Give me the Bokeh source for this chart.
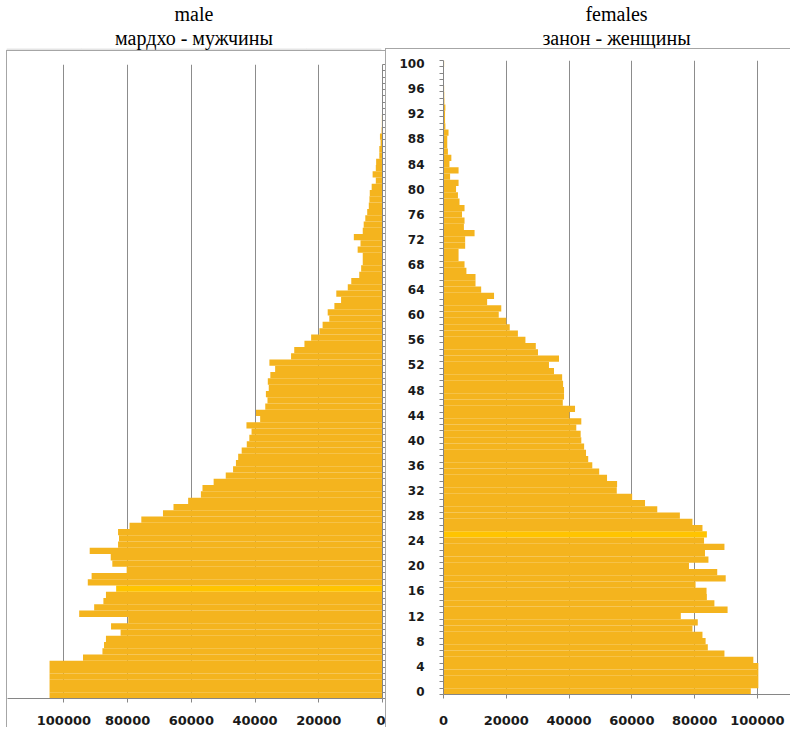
from bokeh.plotting import figure
from bokeh.models import (Range1d, FixedTicker, Title, ColumnDataSource,
                          BasicTickFormatter, Spacer)
from bokeh.layouts import row, column
from bokeh.embed import file_html
from bokeh.resources import INLINE

# ---------------- data ----------------
ages = list(range(101))

male = [104500, 104500, 104500, 104500, 104500, 104500, 94000, 87900, 87400, 86800,
        82200, 85200, 79800, 95200, 90500, 87600, 86800, 83600, 92500, 91300,
        80300, 84800, 85300, 91900, 83000, 82700, 83000, 79400, 75700, 68900,
        65600, 61000, 57000, 56500, 53000, 49200, 46900, 46000, 45300, 44200,
        42600, 41800, 41100, 42700, 38400, 39700, 36800, 36100, 36600, 35700,
        36000, 35200, 33700, 35500, 28700, 27700, 24500, 22400, 19800, 18800,
        16700, 17200, 15100, 13000, 14500, 10900, 9800, 7300, 6700, 6200,
        6200, 7800, 6900, 9000, 6200, 5900, 5400, 4800, 4300, 4100,
        4000, 3400, 2100, 3100, 2100, 2000, 1000, 1000, 600, 800,
        300, 200, 200, 150, 100, 100, 80, 60, 50, 40,
        100]

female = [97900, 100300, 100300, 100300, 100300, 98700, 89500, 84200, 83500, 82500,
          79300, 81000, 75600, 90500, 86300, 83900, 83800, 80300, 89900, 87200,
          78200, 84400, 83300, 89500, 83000, 83900, 82500, 79300, 75300, 68100,
          64200, 60100, 55200, 55300, 52100, 49600, 47400, 46100, 45400, 44800,
          43900, 43700, 42300, 43900, 40100, 41900, 38000, 38400, 38400, 38100,
          37800, 35200, 33600, 36800, 30100, 29400, 26100, 23700, 21100, 20000,
          17600, 18400, 13900, 16100, 12000, 10200, 10200, 7300, 6700, 4800,
          4800, 6900, 6900, 9900, 6500, 6700, 5900, 6700, 5100, 4600,
          4000, 4800, 2100, 4800, 1900, 2500, 1400, 1200, 1200, 1600,
          600, 500, 500, 600, 300, 250, 200, 150, 100, 100,
          200]

male_highlight_age = 17
female_highlight_age = 25

x_ticks = [0, 20000, 40000, 60000, 80000, 100000]
age_label_ticks = list(range(0, 101, 4))
age_boundaries = [a - 0.5 for a in range(102)]

male_title_1 = "male"
male_title_2 = "мардхо - мужчины"
female_title_1 = "females"
female_title_2 = "занон - женщины"

# ---------------- style ----------------
BAR = "#F4B41E"
HI = "#FFC400"
GRID = "#8C8C8C"
AX = "#868686"
BOX = "#A6A6A6"
TXT = "#1A1A1A"
TICK_FONT = "DejaVu Sans"
TITLE_FONT = "Liberation Serif"
BOX_STYLE = {"border-left": "1px solid " + BOX, "border-top": "1px solid " + BOX}


def title_fig(w, h, t1, t2):
    p = figure(width=w, height=h, output_backend="svg", toolbar_location=None,
               x_axis_location=None, y_axis_location=None,
               x_range=Range1d(0, 1), y_range=Range1d(0, 1),
               min_border_left=0, min_border_right=0, min_border_top=0,
               min_border_bottom=0)
    p.outline_line_color = None
    p.background_fill_color = "white"
    p.border_fill_color = "white"
    p.add_layout(Title(text=t2, align="center", text_font=TITLE_FONT,
                       text_font_size="20px", text_font_style="normal",
                       text_color="black", standoff=0), "above")
    p.add_layout(Title(text=t1, align="center", text_font=TITLE_FONT,
                       text_font_size="20px", text_font_style="normal",
                       text_color="black", standoff=0), "above")
    return p


def style_xaxis(p, standoff):
    ax = p.xaxis[0]
    ax.ticker = FixedTicker(ticks=x_ticks)
    ax.formatter = BasicTickFormatter(use_scientific=False)
    ax.axis_line_color = AX
    ax.major_tick_line_color = AX
    ax.major_tick_out = 4
    ax.major_tick_in = 0
    ax.minor_tick_line_color = None
    ax.major_label_text_font = TICK_FONT
    ax.major_label_text_font_style = "bold"
    ax.major_label_text_font_size = "13px"
    ax.major_label_text_color = TXT
    ax.major_label_standoff = standoff
    p.xgrid.ticker = FixedTicker(ticks=x_ticks)
    p.xgrid.grid_line_color = GRID
    p.ygrid.grid_line_color = None


# ---------------- left: males ----------------
pl = figure(width=379, height=677, output_backend="svg", toolbar_location=None,
            x_range=Range1d(117700, 0), y_range=Range1d(-0.5, 100.5),
            y_axis_location="right", styles=BOX_STYLE,
            min_border_left=0, min_border_right=4, min_border_top=13,
            min_border_bottom=30)
pl.outline_line_color = None
pl.background_fill_color = "white"
pl.border_fill_color = "white"

src_m = ColumnDataSource(dict(age=ages, val=male,
                              color=[HI if a == male_highlight_age else BAR for a in ages]))
pl.hbar(y="age", left=0, right="val", height=1.0, fill_color="color",
        line_color=None, source=src_m)
style_xaxis(pl, 13)
ya = pl.yaxis[0]
ya.ticker = FixedTicker(ticks=[], minor_ticks=age_boundaries)
ya.axis_line_color = AX
ya.major_tick_line_color = None
ya.major_tick_out = 0
ya.major_label_standoff = 0
ya.major_label_text_font_size = "0px"
ya.minor_tick_line_color = AX
ya.minor_tick_out = 3
ya.minor_tick_in = 0

tl = title_fig(379, 50, male_title_1, male_title_2)

# ---------------- right: females ----------------
pr = figure(width=405, height=679, output_backend="svg", toolbar_location=None,
            x_range=Range1d(0, 110860), y_range=Range1d(-0.5, 100.5),
            styles=BOX_STYLE,
            min_border_left=57, min_border_right=0, min_border_top=11,
            min_border_bottom=34)
pr.outline_line_color = None
pr.background_fill_color = "white"
pr.border_fill_color = "white"

src_f = ColumnDataSource(dict(age=ages, val=female,
                              color=[HI if a == female_highlight_age else BAR for a in ages]))
pr.hbar(y="age", left=0, right="val", height=1.0, fill_color="color",
        line_color=None, source=src_f)
style_xaxis(pr, 17)
yb = pr.yaxis[0]
yb.ticker = FixedTicker(ticks=age_label_ticks, minor_ticks=age_boundaries)
yb.axis_line_color = AX
yb.major_tick_out = 0
yb.major_tick_in = 0
yb.major_tick_line_color = None
yb.minor_tick_line_color = AX
yb.minor_tick_out = 4
yb.minor_tick_in = 0
yb.major_label_text_font = TICK_FONT
yb.major_label_text_font_style = "bold"
yb.major_label_text_font_size = "12px"
yb.major_label_text_color = TXT
yb.major_label_standoff = 15

tr = title_fig(405, 48, female_title_1, female_title_2)

layout = row(Spacer(width=6), column(tl, pl, spacing=0), column(tr, pr, spacing=0),
             spacing=0)
open("out.html", "w").write(file_html(layout, INLINE))
